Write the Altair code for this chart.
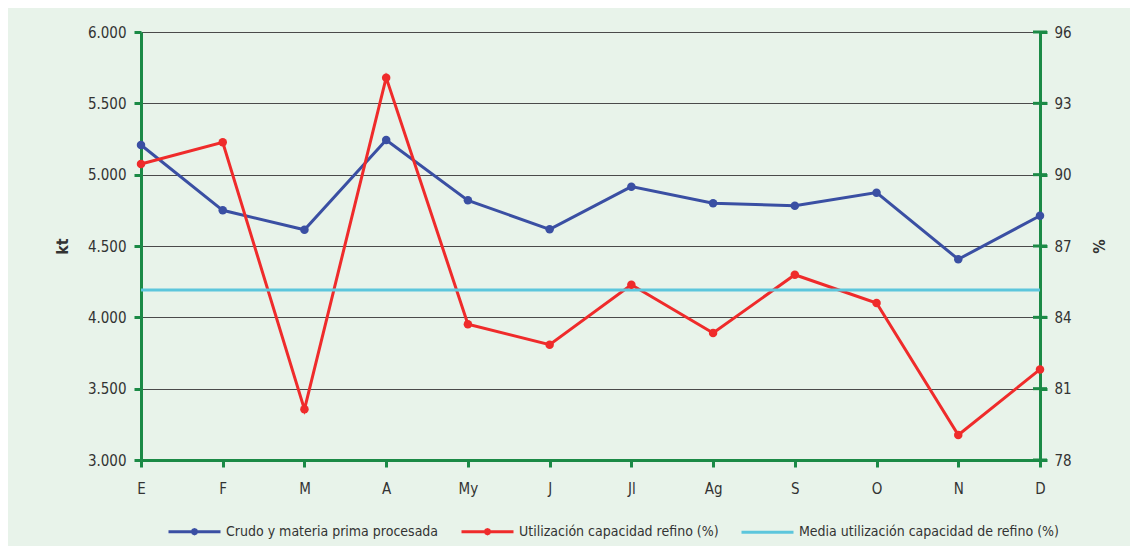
import altair as alt
import pandas as pd

FONT = "DejaVu Sans Condensed, sans-serif"

months = ["E", "F", "M", "A", "My", "J", "Jl", "Ag", "S", "O", "N", "D"]
crudo_kt = [5208, 4750, 4614, 5243, 4820, 4617, 4916, 4799, 4782, 4874, 4407, 4712]
utilizacion_pct = [90.45, 91.36, 80.13, 94.08, 83.71, 82.85, 85.37, 83.34, 85.79, 84.60, 79.05, 81.81]
media_pct = [85.15] * 12
kt_ticks = [3000, 3500, 4000, 4500, 5000, 5500, 6000]
pct_ticks = [78, 81, 84, 87, 90, 93, 96]
series = [
    "Crudo y materia prima procesada",
    "Utilización capacidad refino (%)",
    "Media utilización capacidad de refino (%)",
]
colors = ["#3a4fa3", "#ef2b2b", "#5cc6dc"]

GREEN = "#1b8a46"
BG = "#e8f3ea"
TXT = "#333333"

# legend symbols: line with dot, plain line
dot = "M-1,0L1,0M0.08,0L0.057,0.057L0,0.08L-0.057,0.057L-0.08,0L-0.057,-0.057L0,-0.08L0.057,-0.057Z"
plain = "M-1,0L1,0"
shapes = [dot, dot, plain]

df_kt = pd.DataFrame({"mes": months, "valor": crudo_kt, "serie": series[0]})
df_red = pd.DataFrame({"mes": months, "valor": utilizacion_pct, "serie": series[1]})
df_mean = pd.DataFrame({"mes": months, "valor": media_pct, "serie": series[2]})
df_pct = pd.concat([df_red, df_mean], ignore_index=True)
df_ticks = pd.DataFrame({"mes": [months[-1]] * len(pct_ticks), "valor": pct_ticks})
df_leg = pd.DataFrame({"serie": series})

legend = alt.Legend(
    title=None, orient="none", legendX=26, legendY=472, direction="horizontal",
    symbolSize=2704, symbolStrokeWidth=3, labelFont=FONT, labelFontSize=14,
    labelColor=TXT, labelOffset=4, labelLimit=500, columnPadding=16, padding=0,
)
color = alt.Color("serie:N", scale=alt.Scale(domain=series, range=colors), legend=legend)

x_enc = alt.X(
    "mes:N", sort=months,
    scale=alt.Scale(type="point", domain=months, padding=0),
    axis=alt.Axis(
        title=None, labelAngle=0, labelFont=FONT, labelFontSize=15, labelColor=TXT,
        labelPadding=14, domainColor=GREEN, domainWidth=3, tickColor=GREEN,
        tickWidth=3, tickSize=7, grid=False,
    ),
)

y_left = alt.Y(
    "valor:Q",
    scale=alt.Scale(domain=[3000, 6000], nice=False, zero=False),
    axis=alt.Axis(
        orient="left", values=kt_ticks,
        labelExpr="replace(format(datum.value, ',.0f'), ',', '.')",
        title="kt", titleFont=FONT, titleFontSize=16, titleFontWeight="bold",
        titleColor=TXT, titleX=-79, titleY=214, titleAlign="center",
        titleBaseline="middle", labelFont=FONT, labelFontSize=15, labelColor=TXT,
        labelPadding=8, domainColor=GREEN, domainWidth=3, tickColor=GREEN,
        tickWidth=3, tickSize=7, grid=True, gridColor="#4a4a4a", gridWidth=1,
    ),
)

y_right = alt.Y(
    "valor:Q",
    scale=alt.Scale(domain=[78, 96], nice=False, zero=False),
    axis=alt.Axis(
        orient="right", values=pct_ticks, title="%", titleFont=FONT,
        titleFontSize=16, titleFontWeight="bold", titleColor=TXT, titleX=57,
        titleY=214, titleAlign="center", titleBaseline="middle",
        labelFont=FONT, labelFontSize=15, labelColor=TXT, labelPadding=7,
        domainColor=GREEN, domainWidth=3, tickColor=GREEN, tickWidth=3,
        tickSize=7, grid=False,
    ),
)

blue_line = alt.Chart(df_kt).mark_line(strokeWidth=3).encode(x=x_enc, y=y_left, color=color)
blue_pts = alt.Chart(df_kt).mark_circle(size=72, opacity=1).encode(x=x_enc, y=y_left, color=color)
left = alt.layer(blue_line, blue_pts)

pct_lines = alt.Chart(df_pct).mark_line(strokeWidth=3).encode(x=x_enc, y=y_right, color=color)
red_pts = alt.Chart(df_red).mark_circle(size=72, opacity=1).encode(x=x_enc, y=y_right, color=color)
right_ticks = alt.Chart(df_ticks).mark_tick(size=14, thickness=3, color=GREEN, opacity=1).encode(
    x=x_enc, y=y_right
)
right = alt.layer(right_ticks, pct_lines, red_pts)

helper = alt.Chart(df_leg).mark_point(clip=True, opacity=1, filled=False, strokeWidth=3).encode(
    x=alt.value(0), y=alt.value(-200),
    color=color,
    shape=alt.Shape("serie:N", scale=alt.Scale(domain=series, range=shapes), legend=legend),
)

chart = (
    alt.layer(left, right, helper)
    .resolve_scale(y="independent")
    .properties(
        width=899, height=428,
        autosize=alt.AutoSizeParams(type="none"),
        padding={"left": 133, "top": 24, "right": 90, "bottom": 86},
        background=BG,
    )
    .configure_view(stroke=None)
)

chart.save("out.html", embed_options={"renderer": "svg", "actions": False})
